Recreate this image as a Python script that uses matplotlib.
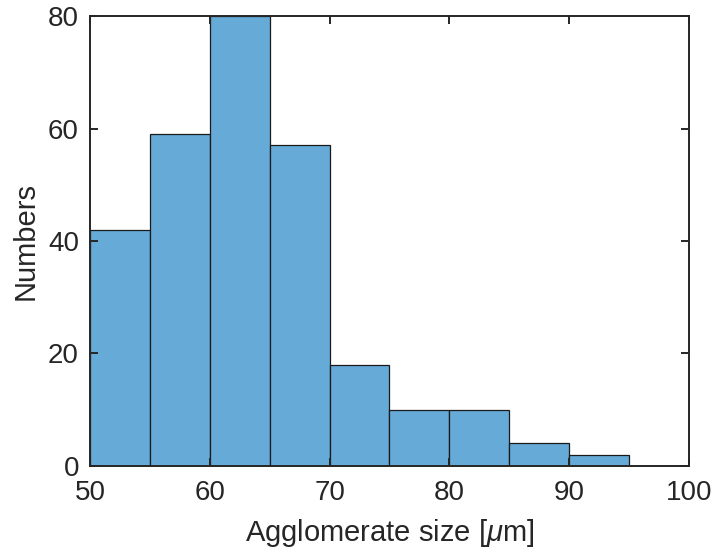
import numpy as np
import matplotlib.pyplot as plt

# histogram counts, bin width 5 um
bin_edges = [50, 55, 60, 65, 70, 75, 80, 85, 90, 95, 100]
counts = [42, 59, 80, 57, 18, 10, 10, 4, 2, 0]

plt.rcParams['font.family'] = ['Liberation Sans', 'DejaVu Sans']
plt.rcParams['mathtext.fontset'] = 'custom'
plt.rcParams['mathtext.it'] = 'Liberation Sans:italic'

fig = plt.figure(figsize=(7.15, 5.56), dpi=100)
ax = fig.add_axes([0.1259, 0.1619, 0.8377, 0.8093])

ax.hist(bin_edges[:-1], bins=bin_edges, weights=counts,
        color=(0.4, 0.668, 0.845), edgecolor='#1a1a1a', linewidth=0.9)

ax.set_xlim(50, 100)
ax.set_ylim(0, 80)
ax.set_xticks([50, 60, 70, 80, 90, 100])
ax.set_yticks([0, 20, 40, 60, 80])

for s in ax.spines.values():
    s.set_color('#262626')
    s.set_linewidth(1.4)
ax.tick_params(direction='in', top=True, right=True, length=6, width=1.4,
               color='#262626', labelsize=20, labelcolor='#262626')
ax.tick_params(axis='x', pad=10)
ax.tick_params(axis='y', pad=8)

ax.set_xlabel(r'Agglomerate size [$\mu$m]', fontsize=21, color='#262626', labelpad=8)
ax.set_ylabel('Numbers', fontsize=21, color='#262626', labelpad=6)

fig.savefig('out.png', dpi=100)
